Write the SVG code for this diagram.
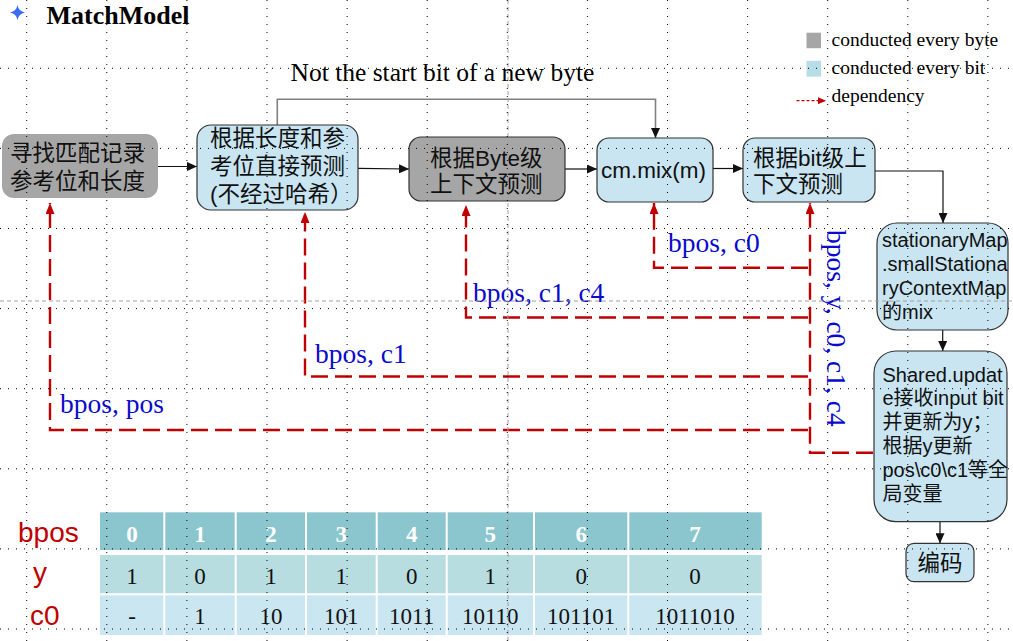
<svg xmlns="http://www.w3.org/2000/svg" width="1013" height="641" viewBox="0 0 1013 641">
<style>
.serif{font-family:"Liberation Serif","Times New Roman",serif}
.sans{font-family:"Liberation Sans",Arial,"Noto Sans CJK SC",sans-serif}
.nodeTxt{font-size:22.5px;fill:#111}
.smallTxt{font-size:20px;fill:#111}
.blue{fill:#0a0acd;font-size:27.5px}
.gray{fill:#a6a6a6}
.lblue{fill:#c9e5f1;stroke:#333;stroke-width:1.2}
.grayb{fill:#a6a6a6;stroke:#333;stroke-width:1.2}
.conn{fill:none;stroke:#111;stroke-width:1.2}
.dep{fill:none;stroke:#c00000;stroke-width:2.4;stroke-dasharray:17 7}
.grid{stroke:#000;stroke-width:1;stroke-dasharray:1 7;fill:none}
.guide{stroke:#a0a0a0;stroke-width:1;stroke-dasharray:4 3;fill:none}
.hd{font-size:23px;font-weight:bold;fill:#fff;text-anchor:middle}
.cell{font-size:23px;fill:#111;text-anchor:middle}
.rl{font-size:28px;fill:#c00000}
</style>
<defs>
<marker id="ab" viewBox="0 0 10 9" refX="10" refY="4.5" markerWidth="10" markerHeight="9" markerUnits="userSpaceOnUse" orient="auto"><path d="M0,0 L10,4.5 L0,9 z" fill="#111"/></marker>
<marker id="ar" viewBox="0 0 11 9" refX="11" refY="4.5" markerWidth="11" markerHeight="9" markerUnits="userSpaceOnUse" orient="auto"><path d="M0,0 L11,4.5 L0,9 z" fill="#c00000"/></marker>
<marker id="ars" viewBox="0 0 8 7" refX="8" refY="3.5" markerWidth="8" markerHeight="7" markerUnits="userSpaceOnUse" orient="auto"><path d="M0,0 L8,3.5 L0,7 z" fill="#c00000"/></marker>
</defs>
<rect width="1013" height="641" fill="#fff"/>

<g id="title">
<path d="M17.5,5 Q18.6,11.4 25,12.5 Q18.6,13.6 17.5,20 Q16.4,13.6 10,12.5 Q16.4,11.4 17.5,5 Z" fill="#3a6cf4"/>
<text class="serif" x="46.5" y="23.5" font-size="26" font-weight="bold" fill="#000">MatchModel</text>
</g>

<g id="legend">
<rect x="806.5" y="32.7" width="14.5" height="15.5" fill="#a6a6a6"/>
<text class="serif" x="831.5" y="46" font-size="19.5" fill="#000">conducted every byte</text>
<rect x="806.5" y="60.8" width="14.5" height="15.8" fill="#b7dde8"/>
<text class="serif" x="831.5" y="74" font-size="19.5" fill="#000">conducted every bit</text>
<line x1="796.5" y1="100.7" x2="826" y2="100.7" stroke="#c00000" stroke-width="1.3" stroke-dasharray="3 2" marker-end="url(#ars)"/>
<text class="serif" x="831.5" y="102" font-size="19.5" fill="#000">dependency</text>
</g>

<g id="connectors">
<line class="conn" x1="158" y1="166.5" x2="197" y2="166.5" marker-end="url(#ab)"/>
<line class="conn" x1="358" y1="168.3" x2="409" y2="169" marker-end="url(#ab)"/>
<line class="conn" x1="565" y1="169" x2="597" y2="169" marker-end="url(#ab)"/>
<line class="conn" x1="713" y1="168.5" x2="743" y2="168.5" marker-end="url(#ab)"/>
<path class="conn" d="M875,171 H943 V223" marker-end="url(#ab)"/>
<path d="M277.3,125 V99.3 H655.5 V138" fill="none" stroke="#808080" stroke-width="1.6" marker-end="url(#ab)"/>
<line class="conn" x1="942.7" y1="330" x2="942.7" y2="351" marker-end="url(#ab)"/>
<line class="conn" x1="940" y1="521.7" x2="940" y2="543.3" marker-end="url(#ab)"/>
<path class="dep" d="M873,452.7 H810 V203" marker-end="url(#ar)"/>
<path class="dep" d="M808,267.7 H654 V203" marker-end="url(#ar)"/>
<path class="dep" d="M808,317.5 H466 V205" marker-end="url(#ar)"/>
<path class="dep" d="M808,376.5 H305 V212" marker-end="url(#ar)"/>
<path class="dep" d="M808,430 H50 V203" marker-end="url(#ar)"/>
<text class="serif" x="290.5" y="81" font-size="25.5" fill="#000">Not the start bit of a new byte</text>
<text class="serif blue" x="668" y="251.5">bpos, c0</text>
<text class="serif blue" x="473" y="302">bpos, c1, c4</text>
<text class="serif blue" x="315" y="363">bpos, c1</text>
<text class="serif blue" x="60" y="413">bpos, pos</text>
<text class="serif blue" transform="translate(826.5,230) rotate(90)">bpos, y, c0, c1, c4</text>
</g>

<g id="n1">
<rect x="2" y="134" width="156" height="64" rx="12" fill="#a6a6a6"/>
<text class="sans nodeTxt" x="10" y="161">寻找匹配记录</text>
<text class="sans nodeTxt" x="10" y="188.5">参考位和长度</text>
</g>
<g id="n2">
<rect class="lblue" x="197" y="125" width="161" height="85" rx="14"/>
<text class="sans nodeTxt" x="210" y="145.5">根据长度和参</text>
<text class="sans nodeTxt" x="210" y="173.5">考位直接预测</text>
<text class="sans nodeTxt" x="210" y="201.5">(不经过哈希）</text>
</g>
<g id="n3">
<rect class="grayb" x="409" y="137" width="156" height="64" rx="12"/>
<text class="sans nodeTxt" x="430" y="165.5">根据Byte级</text>
<text class="sans nodeTxt" x="430" y="191.5">上下文预测</text>
</g>
<g id="n4">
<rect class="lblue" x="597" y="138" width="116" height="64" rx="12"/>
<text class="sans nodeTxt" x="601" y="178">cm.mix(m)</text>
</g>
<g id="n5">
<rect class="lblue" x="743" y="138" width="132" height="64" rx="12"/>
<text class="sans nodeTxt" x="753" y="165.5">根据bit级上</text>
<text class="sans nodeTxt" x="753" y="191.5">下文预测</text>
</g>
<g id="n6">
<rect class="lblue" x="877" y="223" width="131" height="107" rx="20"/>
<text class="sans smallTxt" x="882" y="247">stationaryMap</text>
<text class="sans smallTxt" x="882" y="271">.smallStationa</text>
<text class="sans smallTxt" x="882" y="295">ryContextMap</text>
<text class="sans smallTxt" x="882" y="319">的mix</text>
</g>
<g id="n7">
<rect class="lblue" x="874" y="351" width="133" height="170.7" rx="22"/>
<text class="sans smallTxt" x="882.5" y="381.5">Shared.updat</text>
<text class="sans smallTxt" x="882.5" y="405">e接收input bit</text>
<text class="sans smallTxt" x="882.5" y="429">并更新为y；</text>
<text class="sans smallTxt" x="882.5" y="453">根据y更新</text>
<text class="sans smallTxt" x="882.5" y="477">pos\c0\c1等全</text>
<text class="sans smallTxt" x="882.5" y="500.5">局变量</text>
</g>
<g id="n8">
<rect class="lblue" x="906" y="543.3" width="68" height="38.4" rx="8"/>
<text class="sans nodeTxt" x="940" y="571" text-anchor="middle">编码</text>
</g>

<g id="table">
<rect x="100" y="512.3" width="661.7" height="37.7" fill="#8bc6ce"/>
<rect x="100" y="555" width="661.7" height="38.3" fill="#b8dde0"/>
<rect x="100" y="595.3" width="661.7" height="39.7" fill="#c9e6f1"/>
<g stroke="#fff" stroke-width="2">
<line x1="164.3" y1="512" x2="164.3" y2="635"/>
<line x1="235.7" y1="512" x2="235.7" y2="635"/>
<line x1="306" y1="512" x2="306" y2="635"/>
<line x1="376.7" y1="512" x2="376.7" y2="635"/>
<line x1="446.7" y1="512" x2="446.7" y2="635"/>
<line x1="534" y1="512" x2="534" y2="635"/>
<line x1="628.3" y1="512" x2="628.3" y2="635"/>
</g>
<g class="serif">
<text class="hd" x="132" y="541.5">0</text>
<text class="hd" x="200" y="541.5">1</text>
<text class="hd" x="271" y="541.5">2</text>
<text class="hd" x="341.3" y="541.5">3</text>
<text class="hd" x="411.7" y="541.5">4</text>
<text class="hd" x="490.3" y="541.5">5</text>
<text class="hd" x="581.2" y="541.5">6</text>
<text class="hd" x="695" y="541.5">7</text>
<text class="cell" x="132" y="583.5">1</text>
<text class="cell" x="200" y="583.5">0</text>
<text class="cell" x="271" y="583.5">1</text>
<text class="cell" x="341.3" y="583.5">1</text>
<text class="cell" x="411.7" y="583.5">0</text>
<text class="cell" x="490.3" y="583.5">1</text>
<text class="cell" x="581.2" y="583.5">0</text>
<text class="cell" x="695" y="583.5">0</text>
<text class="cell" x="132" y="624">-</text>
<text class="cell" x="200" y="624">1</text>
<text class="cell" x="271" y="624">10</text>
<text class="cell" x="341.3" y="624">101</text>
<text class="cell" x="411.7" y="624">1011</text>
<text class="cell" x="490.3" y="624">10110</text>
<text class="cell" x="581.2" y="624">101101</text>
<text class="cell" x="695" y="624">1011010</text>
</g>
<text class="sans rl" x="18" y="541.7">bpos</text>
<text class="sans rl" x="33" y="581.7">y</text>
<text class="sans rl" x="30" y="625">c0</text>
</g>

<g id="guides">
<line class="guide" x1="0" y1="301" x2="1013" y2="301"/>
<line class="guide" x1="508" y1="0" x2="508" y2="641"/>
</g>
<g id="grid" class="grid">
<path d="M26.7,0 V641 M106.8,0 V641 M186.9,0 V641 M267,0 V641 M347.1,0 V641 M427.2,0 V641 M507.3,0 V641 M587.4,0 V641 M667.5,0 V641 M747.6,0 V641 M827.7,0 V641 M907.8,0 V641 M987.9,0 V641"/>
<path d="M0,68.3 H1013 M0,148.4 H1013 M0,228.5 H1013 M0,308.6 H1013 M0,388.7 H1013 M0,468.8 H1013 M0,548.9 H1013 M0,629 H1013"/>
</g>
</svg>
